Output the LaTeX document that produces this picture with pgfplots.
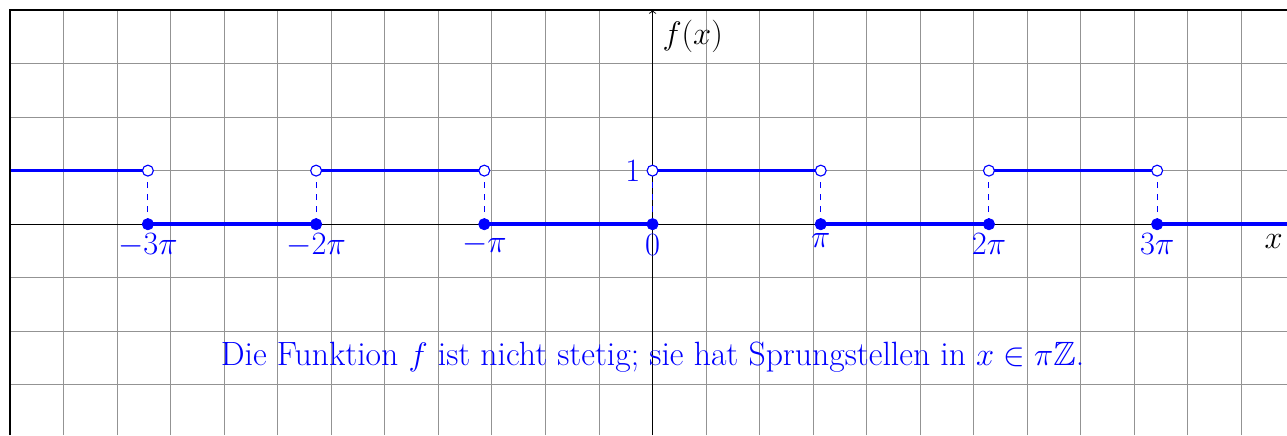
\documentclass[border=0pt]{standalone}
\usepackage{pgfplots}
\pgfplotsset{compat=1.18}
\usepackage{amssymb}

\begin{document}
\begin{tikzpicture}[lbl/.style={font=\fontsize{16.7}{20}\selectfont}]
\begin{axis}[
  x=1cm, y=1cm,
  xmin=-12, xmax=11.85,
  ymin=-3.94, ymax=4,
  axis lines=middle,
  x axis line style={black, line width=0.5pt, -},
  y axis line style={black, line width=0.5pt, -to},
  xtick={-12,...,12}, ytick={-4,...,4},
  xticklabels={}, yticklabels={},
  major tick length=0pt,
  grid=major,
  grid style={gray!85, line width=0.5pt},
]
% f = 1 on (2k pi, (2k+1) pi), 0 elsewhere
\addplot[blue, line width=1.9pt] coordinates {(-12,1) (-9.4248,1)};
\addplot[blue, line width=1.9pt] coordinates {(-6.2832,1) (-3.1416,1)};
\addplot[blue, line width=1.9pt] coordinates {(0,1) (3.1416,1)};
\addplot[blue, line width=1.9pt] coordinates {(6.2832,1) (9.4248,1)};
\addplot[blue, line width=1.9pt] coordinates {(-9.4248,0) (-6.2832,0)};
\addplot[blue, line width=1.9pt] coordinates {(-3.1416,0) (0,0)};
\addplot[blue, line width=1.9pt] coordinates {(3.1416,0) (6.2832,0)};
\addplot[blue, line width=1.9pt] coordinates {(9.4248,0) (12,0)};
% jumps
\pgfplotsset{jump/.style={color=blue, draw=blue, dash pattern=on 3.2pt off 3.2pt, line width=0.55pt}}
\addplot[jump] coordinates {(-9.4248,0) (-9.4248,1)};
\addplot[jump] coordinates {(-6.2832,0) (-6.2832,1)};
\addplot[jump] coordinates {(-3.1416,0) (-3.1416,1)};
\addplot[jump] coordinates {(0,0) (0,1)};
\addplot[jump] coordinates {(3.1416,0) (3.1416,1)};
\addplot[jump] coordinates {(6.2832,0) (6.2832,1)};
\addplot[jump] coordinates {(9.4248,0) (9.4248,1)};
% function values at the jump points
\addplot[only marks, mark=*, mark size=3pt, blue, mark options={fill=blue, draw=blue}] coordinates {
  (-9.4248,0) (-6.2832,0) (-3.1416,0) (0,0) (3.1416,0) (6.2832,0) (9.4248,0)};
\addplot[only marks, mark=*, mark size=2.9pt, blue, mark options={fill=white, draw=blue, line width=0.6pt}] coordinates {
  (-9.4248,1) (-6.2832,1) (-3.1416,1) (0,1) (3.1416,1) (6.2832,1) (9.4248,1)};

\node[blue, below, lbl, inner sep=5pt] at (axis cs:-9.4248,0) {$-3\pi$};
\node[blue, below, lbl, inner sep=5pt] at (axis cs:-6.2832,0) {$-2\pi$};
\node[blue, below, lbl, inner sep=5pt] at (axis cs:-3.1416,0) {$-\pi$};
\node[blue, below, lbl, inner sep=5.5pt] at (axis cs:0,0) {$0$};
\node[blue, below, lbl, inner sep=4.5pt] at (axis cs:3.1416,0) {$\pi$};
\node[blue, below, lbl, inner sep=5pt] at (axis cs:6.2832,0) {$2\pi$};
\node[blue, below, lbl, inner sep=5pt] at (axis cs:9.4248,0) {$3\pi$};
\node[blue, left, lbl, inner sep=4pt] at (axis cs:-0.08,1) {$1$};
\node[lbl] at (axis cs:0.75,3.51) {$f(x)$};
\node[lbl] at (axis cs:11.6,-0.32) {$x$};
\node[blue, font=\fontsize{17.9}{21}\selectfont] at (axis cs:0,-2.48)
  {Die Funktion $f$ ist nicht stetig; sie hat Sprungstellen in $x\in\pi\mathbb{Z}$.};

\coordinate (bl) at (axis cs:-12.187,-3.94);
\coordinate (tr) at (axis cs:11.85,4.187);
\coordinate (fbl) at (axis cs:-12,-3.94);
\coordinate (ftl) at (axis cs:-12,4);
\coordinate (ftr) at (axis cs:11.85,4);
\end{axis}
\draw[black, line width=0.6pt] (fbl) -- (ftl) -- (ftr);
\pgfresetboundingbox
\path (bl) rectangle (tr);
\end{tikzpicture}
\end{document}
